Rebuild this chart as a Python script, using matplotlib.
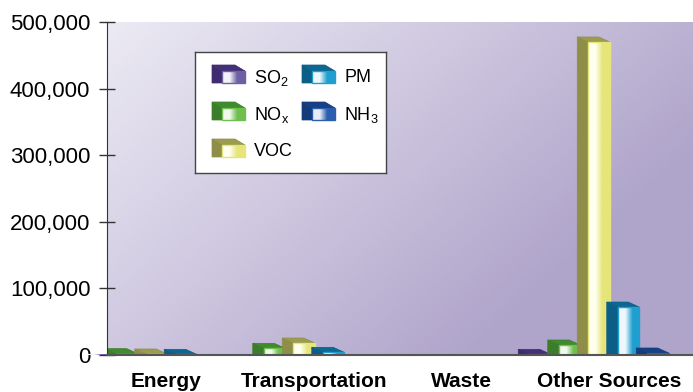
import numpy as np
import matplotlib
matplotlib.use("Agg")
import matplotlib.pyplot as plt
from matplotlib.patches import Polygon, Rectangle
from matplotlib.colors import LinearSegmentedColormap, to_rgb

plt.rcParams['font.family'] = ['Liberation Sans', 'DejaVu Sans']
plt.rcParams['mathtext.fontset'] = 'custom'
plt.rcParams['mathtext.rm'] = 'Liberation Sans'
plt.rcParams['mathtext.default'] = 'regular'

# data
categories = ["Energy", "Transportation", "Waste", "Other Sources"]
pollutants = ["SO$_2$", "NO$_x$", "VOC", "PM", "NH$_3$"]
so2 = [1000, 0, 0, 1000]
nox = [2000, 10000, 0, 15000]
voc = [1500, 18000, 0, 470000]
pm = [1000, 4000, 0, 72000]
nh3 = [0, 0, 0, 3000]
yticks = [0, 100000, 200000, 300000, 400000, 500000]
ytick_labels = ["0", "100,000", "200,000", "300,000", "400,000", "500,000"]

series = [so2, nox, voc, pm, nh3]
# (side/top dark, front light, front saturated)
colors = [("#3e2c6e", "#f4f2fa", "#6f5fa3"),
          ("#3b7d2b", "#f1f9ec", "#6fbf4e"),
          ("#8e8e48", "#fffff0", "#e6e57a"),
          ("#0b5e86", "#eef8fd", "#1f9fd0"),
          ("#143b7a", "#e9eef8", "#2b5ead")]

W, H = 693, 392
fig = plt.figure(figsize=(W / 100, H / 100), dpi=100)
ax_l, ax_r, ax_b, ax_t = 107, 693, 355, 22
ax = fig.add_axes([ax_l / W, 1 - ax_b / H, (ax_r - ax_l) / W, (ax_b - ax_t) / H])

px_unit = 147.5
x0_px = 156.5
xmin = (ax_l - x0_px) / px_unit
xmax = (ax_r - x0_px) / px_unit
ymax = 500000
ypx = ymax / (ax_b - ax_t)

# background gradient
gx, gy = np.meshgrid(np.linspace(0, 1, 200), np.linspace(1, 0, 200))
t = np.clip(0.8 * gx + 0.5 * (1 - gy), 0, 1)
bg = LinearSegmentedColormap.from_list("bg", ["#ecEAf4", "#cfc8e0", "#afa4ca"])
ax.imshow(t, cmap=bg, extent=[0, 1, 0, 1], transform=ax.transAxes,
          aspect='auto', zorder=0, interpolation='bilinear')

step = 0.2
fw = 21.5 / px_unit
dx = -11 / px_unit
dy = 5 * ypx


def draw_box(axx, x0, x1, y0, y1, ddx, ddy, c, z):
    dark, light, sat = c
    dk = np.array(to_rgb(dark))
    top_c = np.clip(dk * 1.1, 0, 1)
    side = Polygon([(x0, y0), (x0, y1), (x0 + ddx, y1 + ddy), (x0 + ddx, y0)],
                   closed=True, facecolor=dark, edgecolor=dark, lw=0.5, zorder=z)
    top = Polygon([(x0, y1), (x1, y1), (x1 + ddx, y1 + ddy), (x0 + ddx, y1 + ddy)],
                  closed=True, facecolor=top_c, edgecolor=dark, lw=0.5, zorder=z)
    axx.add_patch(side)
    axx.add_patch(top)
    cm = LinearSegmentedColormap.from_list("f", [light, light, sat, sat])
    grad = np.linspace(0, 1, 64).reshape(1, -1)
    im = axx.imshow(grad, cmap=cm, extent=[x0, x1, y0, y1], aspect='auto',
                    zorder=z, interpolation='bilinear')
    fr = Rectangle((x0, y0), x1 - x0, y1 - y0, facecolor='none',
                   edgecolor=sat, lw=1.0, zorder=z + 0.01)
    axx.add_patch(fr)
    im.set_clip_path(fr)


for i in range(len(categories)):
    for j, vals in enumerate(series):
        v = vals[i]
        if v <= 0:
            continue
        xc = i + (j - 2) * step
        draw_box(ax, xc - fw / 2, xc + fw / 2, 0, v, dx, dy, colors[j], 2 + j * 0.1 + i)

ax.set_xlim(xmin, xmax)
ax.set_ylim(0, ymax)

for s in ['top', 'right']:
    ax.spines[s].set_visible(False)
ax.spines['left'].set_color('#333333')
ax.spines['bottom'].set_color('#555555')
ax.spines['bottom'].set_linewidth(1.5)
ax.spines['left'].set_zorder(10)
ax.spines['bottom'].set_zorder(10)

ax.set_yticks(yticks)
ax.set_yticklabels(ytick_labels, fontsize=16)
ax.tick_params(axis='y', direction='inout', length=12, width=1, color='#333333', pad=6)
ax.set_xticks(np.arange(len(categories)) + 10 / px_unit)
ax.set_xticklabels(categories, fontsize=15, fontweight='bold')
ax.tick_params(axis='x', length=0, pad=12)

# legend box
lx0, ly0, lx1, ly1 = 195, 52, 386, 173
lax = fig.add_axes([lx0 / W, 1 - ly1 / H, (lx1 - lx0) / W, (ly1 - ly0) / H])
lax.set_xlim(0, lx1 - lx0)
lax.set_ylim(ly1 - ly0, 0)
lax.set_xticks([])
lax.set_yticks([])
lax.set_facecolor('white')
for s in lax.spines.values():
    s.set_color('#444444')
    s.set_linewidth(1.0)

positions = [(27, 19), (27, 56), (27, 93), (117, 19), (117, 56)]
for j in range(len(pollutants)):
    fx, fy = positions[j]
    # y axis inverted: top at fy, bottom at fy+12
    draw_box(lax, fx, fx + 23, fy + 12, fy, -10, -6, colors[j], 2)
    lax.text(fx + 32, fy + 7, pollutants[j], fontsize=13, va='center', ha='left')

fig.savefig("out.png", dpi=100)
